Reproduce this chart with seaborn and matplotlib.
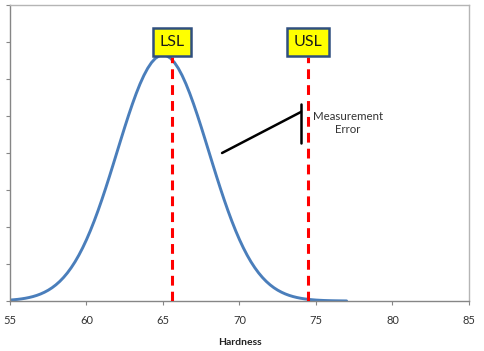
import matplotlib
matplotlib.use("Agg")
import matplotlib.pyplot as plt
import seaborn as sns
import pandas as pd

# Hardness values and density (normal curve, mean ~65, sd ~3)
hardness = [55.0, 55.25, 55.5, 55.75, 56.0, 56.25, 56.5, 56.75, 57.0, 57.25,
            57.5, 57.75, 58.0, 58.25, 58.5, 58.75, 59.0, 59.25, 59.5, 59.75,
            60.0, 60.25, 60.5, 60.75, 61.0, 61.25, 61.5, 61.75, 62.0, 62.25,
            62.5, 62.75, 63.0, 63.25, 63.5, 63.75, 64.0, 64.25, 64.5, 64.75,
            65.0, 65.25, 65.5, 65.75, 66.0, 66.25, 66.5, 66.75, 67.0, 67.25,
            67.5, 67.75, 68.0, 68.25, 68.5, 68.75, 69.0, 69.25, 69.5, 69.75,
            70.0, 70.25, 70.5, 70.75, 71.0, 71.25, 71.5, 71.75, 72.0, 72.25,
            72.5, 72.75, 73.0, 73.25, 73.5, 73.75, 74.0, 74.25, 74.5, 74.75,
            75.0, 75.25, 75.5, 75.75, 76.0, 76.25, 76.5, 76.75, 77.0]
density = [0.00051, 0.00068, 0.00088, 0.00115, 0.00148, 0.00189, 0.00240, 0.00303, 0.00380, 0.00473,
           0.00584, 0.00717, 0.00874, 0.01058, 0.01272, 0.01518, 0.01800, 0.02118, 0.02477, 0.02876,
           0.03316, 0.03797, 0.04317, 0.04875, 0.05467, 0.06088, 0.06733, 0.07395, 0.08066, 0.08736,
           0.09397, 0.10038, 0.10648, 0.11218, 0.11736, 0.12192, 0.12579, 0.12889, 0.13115, 0.13252,
           0.13298, 0.13252, 0.13115, 0.12889, 0.12579, 0.12192, 0.11736, 0.11218, 0.10648, 0.10038,
           0.09397, 0.08736, 0.08066, 0.07395, 0.06733, 0.06088, 0.05467, 0.04875, 0.04317, 0.03797,
           0.03316, 0.02876, 0.02477, 0.02118, 0.01800, 0.01518, 0.01272, 0.01058, 0.00874, 0.00717,
           0.00584, 0.00473, 0.00380, 0.00303, 0.00240, 0.00189, 0.00148, 0.00115, 0.00088, 0.00068,
           0.00051, 0.00039, 0.00029, 0.00022, 0.00016, 0.00012, 0.00009, 0.00006, 0.00004]
lsl = 65.6
usl = 74.5
x_ticks = [55, 60, 65, 70, 75, 80, 85]
y_ticks = [0.0, 0.02, 0.04, 0.06, 0.08, 0.10, 0.12, 0.14, 0.16]

df = pd.DataFrame({"Hardness": hardness, "Density": density})

sns.set_style("white")
plt.rcParams["font.family"] = ["Lato", "DejaVu Sans"]

fig = plt.figure(figsize=(4.85, 3.51), dpi=100)
ax = fig.add_axes([10/485, 50/351, (469-10)/485, (301-5)/351])

sns.lineplot(data=df, x="Hardness", y="Density", ax=ax, color="#4a7ebb", linewidth=2.1)

ax.set_xlim(55, 85)
ax.set_ylim(0, 0.16)
ax.set_xticks(x_ticks)
ax.set_xticklabels([str(t) for t in x_ticks], fontsize=8, color="#333333")
ax.set_yticks(y_ticks)
ax.set_yticklabels([])
ax.tick_params(axis="both", direction="out", length=3, width=0.8, color="#868686",
               left=True, bottom=True)
ax.tick_params(axis="x", pad=7)
ax.set_ylabel("")
ax.set_xlabel("Hardness", fontsize=7.5, fontweight="bold", labelpad=9, color="#222222")
for side in ["left", "bottom"]:
    ax.spines[side].set_color("#868686")
    ax.spines[side].set_linewidth(1.0)
for side in ["top", "right"]:
    ax.spines[side].set_color("#b5b5b5")
    ax.spines[side].set_linewidth(1.0)

top_line = 0.1319
for v in (lsl, usl):
    ax.plot([v, v], [0, top_line], color="#ff0000", linewidth=2.2,
            linestyle=(0, (3.2, 2.0)), zorder=3)

for v, lab in ((lsl, "LSL"), (usl, "USL")):
    ax.text(v, 0.1400, lab, ha="center", va="center", fontsize=11.5, color="#1a1a1a",
            zorder=5,
            bbox=dict(boxstyle="square,pad=0.42", facecolor="#ffff00",
                      edgecolor="#2f4f7f", linewidth=1.8))

# Measurement error annotation
ax.plot([74.02, 74.02], [0.0854, 0.1065], color="black", linewidth=1.8, zorder=4)
ax.plot([68.86, 74.02], [0.0800, 0.1022], color="black", linewidth=1.8, zorder=4)
ax.text(77.1, 0.0962, "Measurement\nError", ha="center", va="center", fontsize=8.3,
        color="#333333", linespacing=1.2)

fig.savefig("out.png", dpi=100)
